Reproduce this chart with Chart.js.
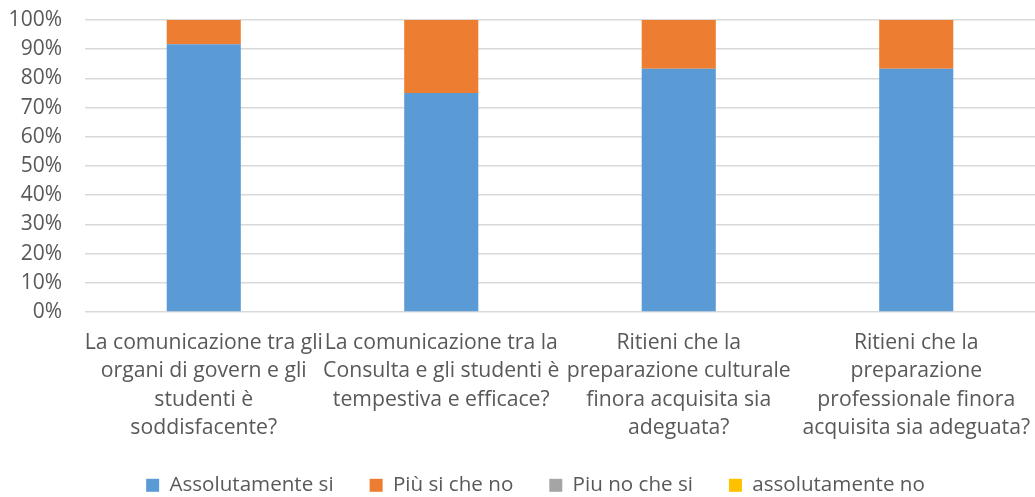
<!DOCTYPE html>
<html>
<head>
<meta charset="utf-8">
<script src="https://cdn.jsdelivr.net/npm/chart.js@4"></script>
<style>
  html, body { margin: 0; padding: 0; background: #fff; }
  #wrap { width: 1035px; height: 497px; }
</style>
</head>
<body>
<div id="wrap"><canvas id="myChart" width="1035" height="497"></canvas></div>
<script>
const categories = [
  ['La comunicazione tra gli', 'organi di govern e gli', 'studenti è', 'soddisfacente?'],
  ['La comunicazione tra la', 'Consulta e gli studenti è', 'tempestiva e efficace?'],
  ['Ritieni che la', 'preparazione culturale', 'finora acquisita sia', 'adeguata?'],
  ['Ritieni che la', 'preparazione', 'professionale finora', 'acquisita sia adeguata?']
];

// percentuali
const assolutamenteSi = [91.67, 75, 83.33, 83.33];
const piuSiCheNo = [8.33, 25, 16.67, 16.67];
const piuNoCheSi = [0, 0, 0, 0];
const assolutamenteNo = [0, 0, 0, 0];

const yTicks = [0, 10, 20, 30, 40, 50, 60, 70, 80, 90, 100];

const FONT = "'Open Sans', 'Noto Sans', sans-serif";
const textColor = '#595959';

// la legenda ha molto spazio tra le voci ma poco sopra/sotto
const legendTweak = {
  id: 'legendTweak',
  beforeUpdate(chart) {
    const lg = chart.legend;
    if (!lg || lg._patched) return;
    const fit = lg.fit;
    lg.fit = function () {
      fit.call(this);
      this.height = 58;
    };
    lg._patched = true;
  },
  afterLayout(chart) {
    // un po' spostata a destra come nell'originale
    chart.legend.left += 18;
    chart.legend.right += 18;
  }
};

const myChart = new Chart(document.getElementById('myChart'), {
  type: 'bar',
  data: {
    labels: categories,
    datasets: [
      { label: 'Assolutamente si', data: assolutamenteSi, backgroundColor: '#5B9BD5' },
      { label: 'Più si che no', data: piuSiCheNo, backgroundColor: '#ED7D31' },
      { label: 'Piu no che si', data: piuNoCheSi, backgroundColor: '#A5A5A5' },
      { label: 'assolutamente no', data: assolutamenteNo, backgroundColor: '#FFC000' }
    ]
  },
  plugins: [legendTweak],
  options: {
    responsive: false,
    animation: false,
    layout: { padding: { left: 0, right: 0, top: 20, bottom: 0 } },
    datasets: {
      bar: { barPercentage: 1, categoryPercentage: 0.312, borderWidth: 0 }
    },
    scales: {
      x: {
        stacked: true,
        grid: { display: false, drawTicks: false },
        border: { display: false },
        afterFit: (axis) => { axis.paddingLeft = 0; axis.paddingRight = 0; axis.height = 127; },
        ticks: {
          maxRotation: 0,
          autoSkip: false,
          color: textColor,
          padding: 16.5,
          font: { family: FONT, size: 21.2, lineHeight: 1.345 }
        }
      },
      y: {
        stacked: true,
        min: 0,
        max: 100,
        afterBuildTicks: (axis) => { axis.ticks = yTicks.map(v => ({ value: v })); },
        afterFit: (axis) => { axis.width = 85; axis.paddingTop = 0; axis.paddingBottom = 0; },
        grid: { color: '#D9D9D9', lineWidth: 1.5, drawTicks: false },
        border: { display: false },
        ticks: {
          autoSkip: false,
          color: textColor,
          padding: 23,
          font: { family: FONT, size: 21 },
          callback: (v) => v + '%'
        }
      }
    },
    plugins: {
      legend: {
        position: 'bottom',
        labels: {
          color: textColor,
          boxWidth: 13,
          boxHeight: 13,
          padding: 36,
          font: { family: FONT, size: 20.6 }
        }
      },
      tooltip: { enabled: false }
    }
  }
});
</script>
</body>
</html>
